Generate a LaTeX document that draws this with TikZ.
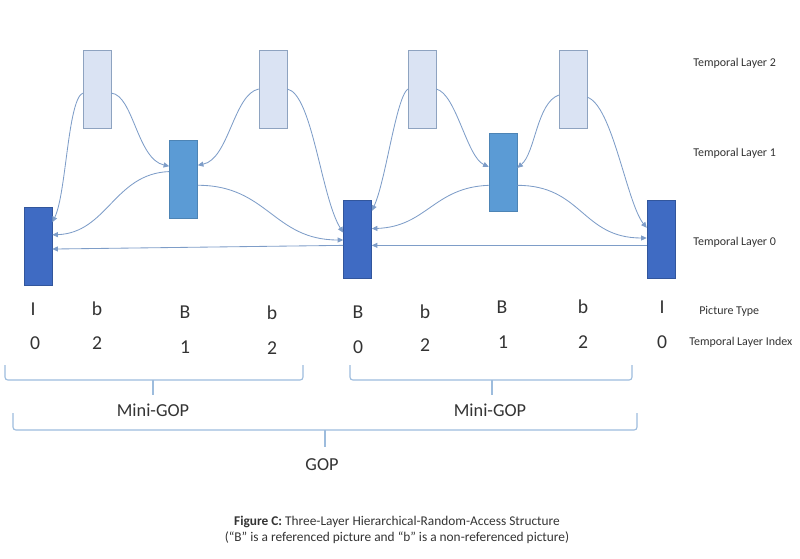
\documentclass[tikz,border=0pt]{standalone}
\usepackage{fontspec}
\setmainfont{Carlito}
\usetikzlibrary{arrows.meta}
\definecolor{layA}{HTML}{3F6BC3}
\definecolor{layB}{HTML}{5B9BD5}
\definecolor{layC}{HTML}{DAE3F3}
\definecolor{edgeC}{HTML}{8EA3C0}
\definecolor{refc}{HTML}{7E9DC8}
\definecolor{bracec}{HTML}{9DBCDD}
\definecolor{textc}{HTML}{333333}
\begin{document}
\begin{tikzpicture}[x=0.025cm,y=-0.025cm,
    picbox/.style={rectangle,inner sep=0pt,minimum width=0.7cm,minimum height=1.95cm},
    refarrow/.style={draw=refc,line width=0.6pt,-{Triangle[length=4pt,width=3.6pt]}},
    gopbrace/.style={draw=bracec,line width=0.8pt,rounded corners=2pt},
    lbl/.style={text=textc,inner sep=0pt,font=\fontsize{14}{16}\selectfont},
    side/.style={text=textc,inner sep=0pt,anchor=west,font=\fontsize{8.5}{10}\selectfont}]
  \useasboundingbox (0,0) rectangle (800,558);
  % pictures, one per layer
  \node[picbox,fill=layA,draw=layA!80!black] (L0a) at (38,246) {};
  \node[picbox,fill=layA,draw=layA!80!black] (L0b) at (357.5,239) {};
  \node[picbox,fill=layA,draw=layA!80!black] (L0c) at (661,239) {};
  \node[picbox,fill=layB,draw=layB!85!black] (L1a) at (183.5,179.5) {};
  \node[picbox,fill=layB,draw=layB!85!black] (L1b) at (503,172) {};
  \foreach \x/\n in {97/a,273/b,422/c,573/d}
    \node[picbox,fill=layC,draw=edgeC] (L2\n) at (\x,89) {};
  % references, first mini-GOP
  \draw[refarrow] (L2a.196) .. controls +(-15,7) and +(14,-28) .. (L0a.59);
  \draw[refarrow] (L2a.344) .. controls +(22,2) and +(-32,-7) .. (L1a.137);
  \draw[refarrow] (L2b.west) .. controls +(-25,5) and +(31,-6) .. (L1a.45);
  \draw[refarrow] (L2b.east) .. controls +(25,5) and +(-22,-35) .. (L0b.156);
  \draw[refarrow] (L1a.151) .. controls +(-55,2) and +(55,-2) .. (L0a.38);
  \draw[refarrow] (L1a.338) .. controls +(70,0) and +(-70,0) .. (L0b.184);
  \draw[refarrow] (L0b.204) -- (L0a.348);
  % references, second mini-GOP
  \draw[refarrow] (L2c.west) .. controls +(-12,10) and +(14,-30) .. (L0b.63);
  \draw[refarrow] (L2c.east) .. controls +(20,5) and +(-22,-10) .. (L1b.160);
  \draw[refarrow] (L2d.203) .. controls +(-22,8) and +(18,-15) .. (L1b.16);
  \draw[refarrow] (L2d.330) .. controls +(25,8) and +(-20,-25) .. (L0c.142);
  \draw[refarrow] (L1b.223) .. controls +(-55,2) and +(55,-2) .. (L0b.36);
  \draw[refarrow] (L1b.317) .. controls +(65,0) and +(-65,0) .. (L0c.176);
  \draw[refarrow] (L0c.204) -- (L0b.336);
  % picture type and temporal layer index
  \foreach \x/\y/\t [count=\i] in {33/309/I,97/309/b,185/312/B,272/313/b,358/312/B,
      425/312/b,502/307/B,583/307/b,662/307/I}
    \node[lbl] (type\i) at (\x,\y) {\t};
  \foreach \x/\y/\t [count=\i] in {35/343/0,97/343/2,185/347/1,272/348/2,358/347/0,
      425/345/2,503/342/1,583/342/2,662/342/0}
    \node[lbl] (idx\i) at (\x,\y) {\t};
  \node[side] (lay2) at (693,63) {Temporal Layer 2};
  \node[side] (lay1) at (693,153) {Temporal Layer 1};
  \node[side] (lay0) at (693,242) {Temporal Layer 0};
  \node[side] (ptype) at (699,311) {Picture Type};
  \node[side] (tindex) at (689,342) {Temporal Layer Index};
  % mini-GOP and GOP braces
  \draw[gopbrace] (5,365) -- (5,380) -- (303,380) -- (303,365); \draw[gopbrace] (153,380) -- (153,395);
  \draw[gopbrace] (350,365) -- (350,380) -- (632,380) -- (632,365); \draw[gopbrace] (492,380) -- (492,395);
  \draw[gopbrace] (13,413) -- (13,430) -- (637,430) -- (637,413); \draw[gopbrace] (325,430) -- (325,447);
  \node[lbl,font=\fontsize{13}{15}\selectfont] (mgopa) at (153,410) {Mini-GOP};
  \node[lbl,font=\fontsize{13}{15}\selectfont] (mgopb) at (490,410) {Mini-GOP};
  \node[lbl,font=\fontsize{13}{15}\selectfont] (gop) at (322,465) {GOP};
  \node[text=textc,align=center,inner sep=0pt,font=\fontsize{9.5}{11.4}\selectfont] (caption) at (397,530)
    {\textbf{Figure C:} Three-Layer Hierarchical-Random-Access Structure\\
     (“B” is a referenced picture and “b” is a non-referenced picture)};
\end{tikzpicture}
\end{document}
